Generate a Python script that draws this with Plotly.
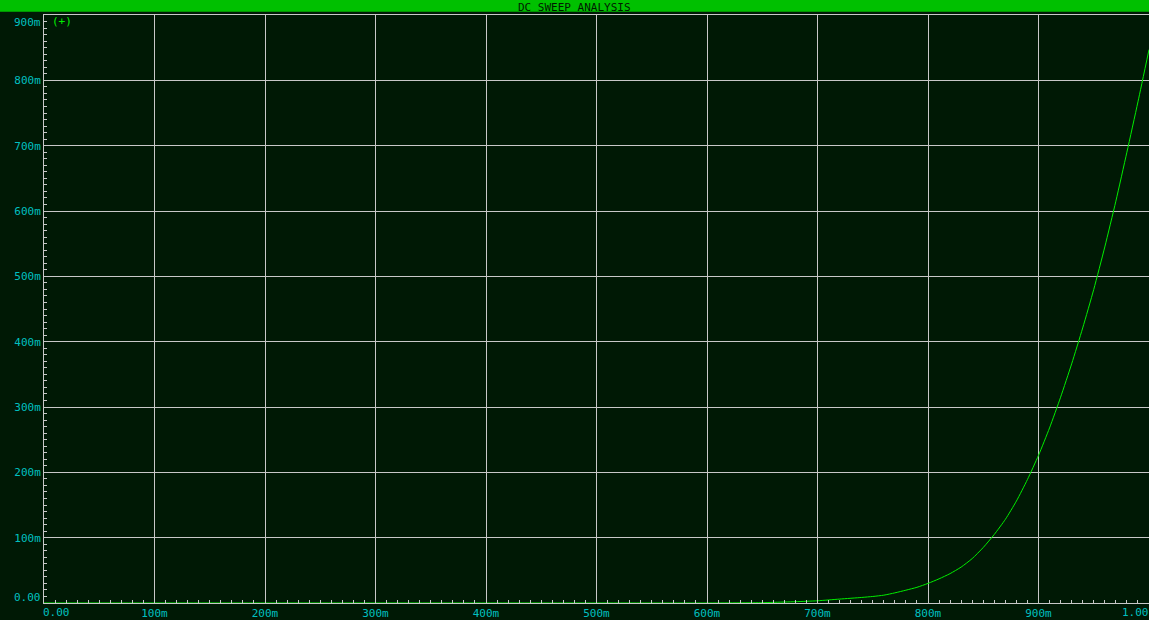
import plotly.graph_objects as go

# ---- data ----
v_in = [0.00, 0.10, 0.20, 0.30, 0.40, 0.50, 0.60, 0.65, 0.66, 0.68, 0.70, 0.72, 0.74, 0.75, 0.76, 0.77,
        0.78, 0.79, 0.80, 0.81, 0.82, 0.83, 0.84, 0.85, 0.86, 0.87, 0.88, 0.89, 0.90,
        0.91, 0.92, 0.93, 0.94, 0.95, 0.96, 0.97, 0.98, 0.99, 1.00]
i_out = [0.0, 0.0, 0.0, 0.0, 0.0, 0.0, 0.0, 0.0005, 0.001, 0.002, 0.0034, 0.006, 0.0085, 0.010, 0.012, 0.0155,
         0.0196, 0.0240, 0.030, 0.037, 0.045, 0.055, 0.068, 0.085, 0.105, 0.128, 0.156, 0.189, 0.226,
         0.268, 0.315, 0.366, 0.421, 0.480, 0.545, 0.615, 0.690, 0.767, 0.847]

x_tickvals = [0.1, 0.2, 0.3, 0.4, 0.5, 0.6, 0.7, 0.8, 0.9]
x_ticktext = ["100m", "200m", "300m", "400m", "500m", "600m", "700m", "800m", "900m"]
y_tickvals = [0.1, 0.2, 0.3, 0.4, 0.5, 0.6, 0.7, 0.8]
y_ticktext = ["100m", "200m", "300m", "400m", "500m", "600m", "700m", "800m"]
title_text = "DC SWEEP ANALYSIS"
trace_label = "(+)"

# ---- style ----
W, H = 1149, 620
ML, MR, MT, MB = 44, 0, 15, 15
PW, PH = W - ML - MR, H - MT - MB
BG = "#001905"
GRID = "#c8c8c8"
LBL = "#00c0c0"
CURVE = "#00ee00"
BAR = "#00c000"
FONT = "DejaVu Sans Mono"

fig = go.Figure()
fig.add_trace(go.Scatter(x=v_in, y=i_out, mode="lines", line_shape="spline",
                         line=dict(color=CURVE, width=1, smoothing=0.6),
                         hoverinfo="skip", showlegend=False))

axis_common = dict(
    showgrid=True, gridcolor=GRID, gridwidth=1, zeroline=False,
    showline=True, linecolor=GRID, linewidth=1,
    ticks="inside", ticklen=3, tickcolor=GRID,
    tickfont=dict(family=FONT, size=11, color=LBL),
    tickmode="array",
)

fig.update_layout(
    width=W, height=H,
    margin=dict(l=ML, r=MR, t=MT, b=MB, pad=0),
    paper_bgcolor=BG, plot_bgcolor=BG,
    showlegend=False,
    xaxis=dict(range=[0, 1.0], tickvals=x_tickvals, ticktext=x_ticktext, mirror=True,
               minor=dict(dtick=0.01, tick0=0, ticks="inside", ticklen=3, tickcolor=GRID, showgrid=False),
               **axis_common),
    yaxis=dict(range=[0, 0.9], tickvals=y_tickvals, ticktext=y_ticktext,
               minor=dict(dtick=0.01, tick0=0, ticks="inside", ticklen=3, tickcolor=GRID, showgrid=False),
               **axis_common),
)

# green title bar
fig.add_shape(type="rect", xref="paper", yref="paper",
              x0=-ML / PW - 0.01, x1=1.01,
              y0=1 + (MT - 11.7) / PH, y1=1 + MT / PH + 0.01,
              line=dict(width=0), fillcolor=BAR, layer="above")

fig.add_annotation(text=title_text, xref="paper", yref="paper",
                   x=(W / 2 - ML) / PW, y=1 + MT / PH,
                   xanchor="center", yanchor="top", showarrow=False, borderpad=0,
                   font=dict(family=FONT, size=11, color="#001a00"))

fig.add_annotation(text=trace_label, xref="paper", yref="paper",
                   x=(50 - ML) / PW, y=1 - (22 - MT) / PH,
                   xanchor="left", yanchor="middle", showarrow=False,
                   font=dict(family=FONT, size=11, color=CURVE))

# end tick labels (shifted inward as in the reference)
fig.add_annotation(text="0.00", xref="paper", yref="y", x=0, y=0, xanchor="right",
                   yanchor="middle", xshift=-1, yshift=6, showarrow=False,
                   font=dict(family=FONT, size=11, color=LBL))
fig.add_annotation(text="900m", xref="paper", yref="y", x=0, y=0.9, xanchor="right",
                   yanchor="middle", xshift=-1, yshift=-7, showarrow=False,
                   font=dict(family=FONT, size=11, color=LBL))
fig.add_annotation(text="0.00", xref="x", yref="paper", x=0, y=0, xanchor="left",
                   yanchor="top", showarrow=False, xshift=-3, yshift=-1,
                   font=dict(family=FONT, size=11, color=LBL))
fig.add_annotation(text="1.00", xref="x", yref="paper", x=1.0, y=0, xanchor="right",
                   yanchor="top", showarrow=False, xshift=2, yshift=-1,
                   font=dict(family=FONT, size=11, color=LBL))

fig.write_html("out.html")
